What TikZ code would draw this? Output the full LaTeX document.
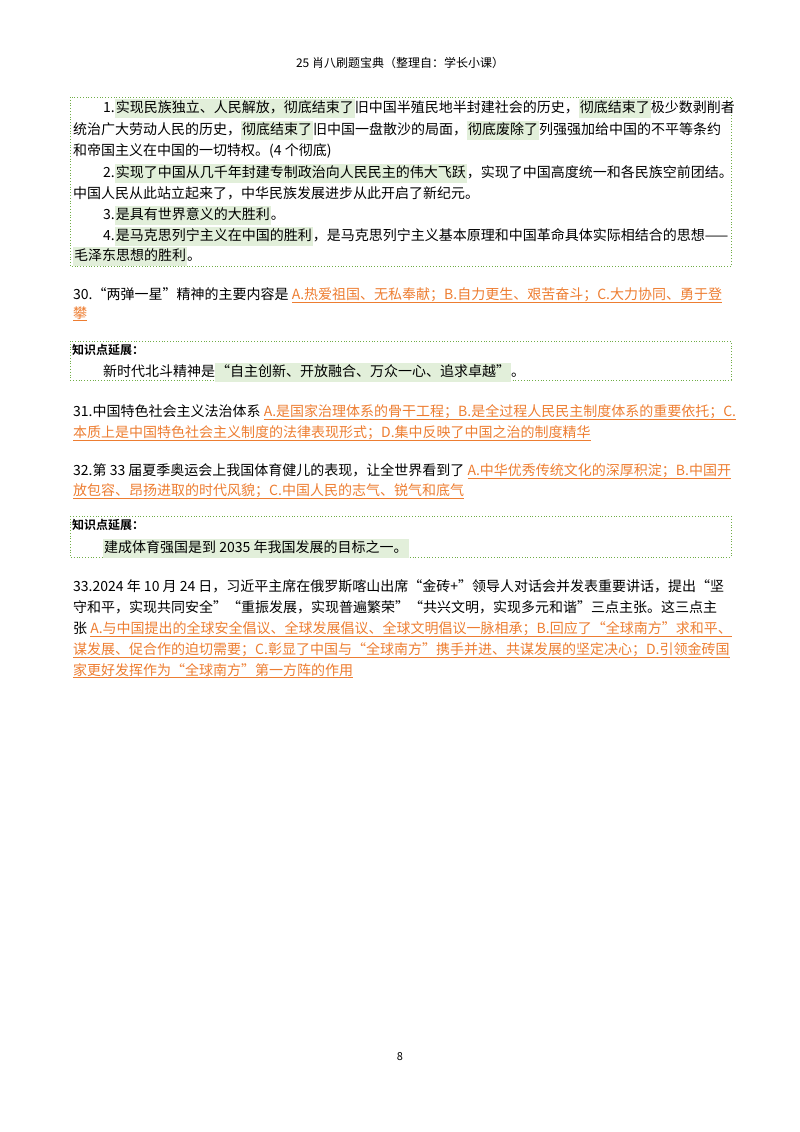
\documentclass[tikz,border=0pt]{standalone}
\usepackage{fontspec}
\setmainfont{Noto Sans CJK SC}
\newfontfamily\cjkb{Noto Sans CJK SC Bold}
\definecolor{hlgreen}{HTML}{E2EFDA}
\definecolor{boxgreen}{HTML}{70AD47}
\definecolor{ansor}{HTML}{ED7D31}
\newcommand{\hlx}[1]{{\setlength{\fboxsep}{1pt}\colorbox{hlgreen}{\strut #1}}}
\newcommand{\ansx}[1]{\textcolor{ansor}{\underline{#1}}}
\tikzset{
  ln/.style={anchor=base west, inner sep=0pt, font=\fontsize{14}{17}\selectfont},
  frm/.style={draw=boxgreen, dotted, line width=0.8pt},
  lbl/.style={anchor=base west, inner sep=0pt, font=\cjkb\fontsize{12}{14}\selectfont}
}
\begin{document}
\begin{tikzpicture}[x=1pt,y=-1pt]
\useasboundingbox (0,0) rectangle (800,1132);
\node[anchor=base, inner sep=0pt, font=\fontsize{12}{14}\selectfont] (hdr) at (400,67) {25 肖八刷题宝典（整理自：学长小课）};
% box 1
\draw[frm] (70,97) rectangle (731,266);
\node[ln] (l1) at (103,112) {1.\hlx{实现民族独立、人民解放，彻底结束了}旧中国半殖民地半封建社会的历史，\hlx{彻底结束了}极少数剥削者};
\node[ln] (l2) at (73,134) {统治广大劳动人民的历史，\hlx{彻底结束了}旧中国一盘散沙的局面，\hlx{彻底废除了}列强强加给中国的不平等条约};
\node[ln] (l3) at (73,155) {和帝国主义在中国的一切特权。(4 个彻底)};
\node[ln] (l4) at (103,177) {2.\hlx{实现了中国从几千年封建专制政治向人民民主的伟大飞跃}，实现了中国高度统一和各民族空前团结。};
\node[ln] (l5) at (73,198) {中国人民从此站立起来了，中华民族发展进步从此开启了新纪元。};
\node[ln] (l6) at (103,219) {3.\hlx{是具有世界意义的大胜利}。};
\node[ln] (l7) at (103,240) {4.\hlx{是马克思列宁主义在中国的胜利}，是马克思列宁主义基本原理和中国革命具体实际相结合的思想——};
\node[ln] (l8) at (73,260) {\hlx{毛泽东思想的胜利}。};
% Q30
\node[ln] (q30a) at (73,299) {30.“两弹一星”精神的主要内容是 \ansx{A.热爱祖国、无私奉献；B.自力更生、艰苦奋斗；C.大力协同、勇于登}};
\node[ln] (q30b) at (73,318) {\ansx{攀}};
\draw[frm] (70,341) rectangle (731,380);
\node[lbl] (k1) at (72,354) {知识点延展：};
\node[ln] (k1t) at (103,376) {新时代北斗精神是\hlx{“自主创新、开放融合、万众一心、追求卓越”}。};
% Q31
\node[ln] (q31a) at (73,416) {31.中国特色社会主义法治体系 \ansx{A.是国家治理体系的骨干工程；B.是全过程人民民主制度体系的重要依托；C.}};
\node[ln] (q31b) at (73,437) {\ansx{本质上是中国特色社会主义制度的法律表现形式；D.集中反映了中国之治的制度精华}};
% Q32
\node[ln] (q32a) at (73,475) {32.第 33 届夏季奥运会上我国体育健儿的表现，让全世界看到了 \ansx{A.中华优秀传统文化的深厚积淀；B.中国开}};
\node[ln] (q32b) at (73,495) {\ansx{放包容、昂扬进取的时代风貌；C.中国人民的志气、锐气和底气}};
\draw[frm] (70,516) rectangle (731,557);
\node[lbl] (k2) at (72,529) {知识点延展：};
\node[ln] (k2t) at (103,552) {\hlx{建成体育强国是到 2035 年我国发展的目标之一。}};
% Q33
\node[ln] (q33a) at (73,591) {33.2024 年 10 月 24 日，习近平主席在俄罗斯喀山出席“金砖+”领导人对话会并发表重要讲话，提出“坚};
\node[ln] (q33b) at (73,612) {守和平，实现共同安全”“重振发展，实现普遍繁荣”“共兴文明，实现多元和谐”三点主张。这三点主};
\node[ln] (q33c) at (73,633) {张 \ansx{A.与中国提出的全球安全倡议、全球发展倡议、全球文明倡议一脉相承；B.回应了“全球南方”求和平、}};
\node[ln] (q33d) at (73,654) {\ansx{谋发展、促合作的迫切需要；C.彰显了中国与“全球南方”携手并进、共谋发展的坚定决心；D.引领金砖国}};
\node[ln] (q33e) at (73,675) {\ansx{家更好发挥作为“全球南方”第一方阵的作用}};
\node[anchor=base, inner sep=0pt, font=\fontsize{11}{13}\selectfont] (pg) at (400,1060) {8};
\end{tikzpicture}
\end{document}
